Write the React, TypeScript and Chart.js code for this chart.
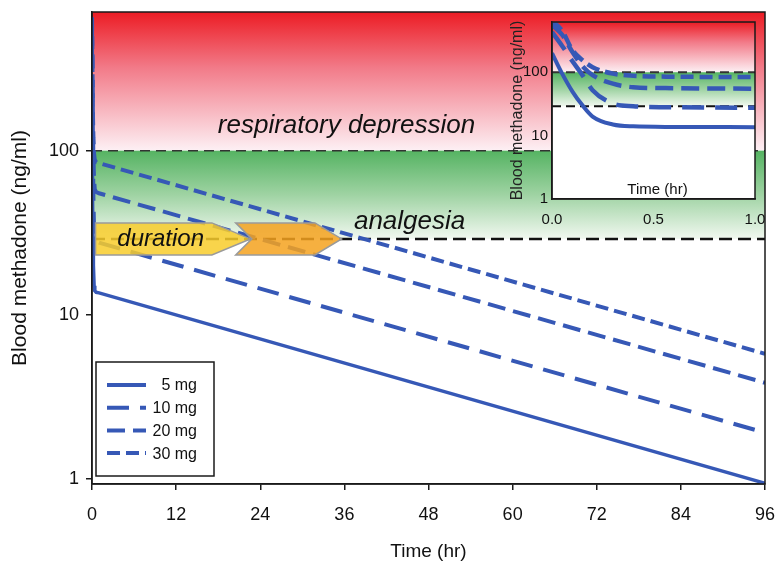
import React, { useEffect, useRef } from 'react';
import { Chart, registerables } from 'chart.js';

Chart.register(...registerables);

// ---------- data ----------
const timeHr = [0, 0.05, 0.1, 0.15, 0.2, 0.3, 0.4, 0.6, 1, 96];
const dose5mg = [200, 95, 50, 30, 20, 15, 14, 13.7, 13.6, 0.94];
const dose10mg = [430, 260, 150, 90, 52, 32, 29, 28, 27.5, 1.91];
const dose20mg = [560, 390, 210, 125, 90, 66, 58, 56, 55, 3.85];
const dose30mg = [650, 450, 225, 155, 120, 95, 88, 85, 84, 5.78];
const seriesLabels = ['5 mg', '10 mg', '20 mg', '30 mg'];
const xTicks = [0, 12, 24, 36, 48, 60, 72, 84, 96];
const yTicks = [1, 10, 100];
const insetXTicks = [0, 0.5, 1];
const respiratoryThreshold = 100;
const analgesiaThreshold = 29;
// duration arrows (hours): yellow [start, shoulder, tip]; orange [back, notch, shoulder, tip]
const yellowArrow = [0.5, 17.1, 22.6];
const orangeArrow = [20.5, 22.8, 31.8, 35.6];

// ---------- styles ----------
const FONT = "'Liberation Sans', Arial, sans-serif";
const BLUE = '#3658b6';
const dashes = [[], [22, 11], [18, 8], [13, 6]];
const seriesValues = [dose5mg, dose10mg, dose20mg, dose30mg];

function points(vals: number[], maxT: number) {
  const out: { x: number; y: number }[] = [];
  timeHr.forEach((t, i) => {
    if (t <= maxT) out.push({ x: t, y: vals[i] });
  });
  return out;
}

function makeDatasets(maxT: number, inset: boolean) {
  return seriesValues.map((vals, i) => ({
    label: seriesLabels[i],
    data: points(vals, maxT),
    borderColor: BLUE,
    borderWidth: inset ? (i === 0 ? 4 : 4.5) : i === 0 ? 3.5 : 4,
    borderDash: dashes[i],
    pointRadius: 0,
    fill: false,
    cubicInterpolationMode: inset ? 'monotone' : 'default',
  }));
}

const zonePlugin = {
  id: 'zones',
  beforeDraw(chart: any) {
    const { ctx, chartArea: a, scales } = chart;
    const y = scales.y;
    const yHi = y.getPixelForValue(respiratoryThreshold);
    const yLo = y.getPixelForValue(analgesiaThreshold);
    ctx.save();
    ctx.fillStyle = '#ffffff';
    ctx.fillRect(a.left, a.top, a.right - a.left, a.bottom - a.top);
    let g = ctx.createLinearGradient(0, a.top, 0, yHi);
    g.addColorStop(0, '#ec1c24');
    g.addColorStop(0.4, '#f27a88');
    g.addColorStop(1, '#fdf0f4');
    ctx.fillStyle = g;
    ctx.fillRect(a.left, a.top, a.right - a.left, yHi - a.top);
    g = ctx.createLinearGradient(0, yHi, 0, yLo);
    g.addColorStop(0, '#55b362');
    g.addColorStop(0.5, '#9fd3a3');
    g.addColorStop(1, '#f1f8f0');
    ctx.fillStyle = g;
    ctx.fillRect(a.left, yHi, a.right - a.left, yLo - yHi);
    ctx.restore();
  },
  beforeDatasetsDraw(chart: any, _args: any, opts: any) {
    const { ctx, chartArea: a, scales } = chart;
    const y = scales.y;
    ctx.save();
    ctx.beginPath();
    ctx.rect(a.left, a.top, a.right - a.left, a.bottom - a.top);
    ctx.clip();
    const lines = [
      { v: respiratoryThreshold, w: opts.hiWidth, d: opts.hiDash, c: '#333' },
      { v: analgesiaThreshold, w: opts.loWidth, d: opts.loDash, c: '#111' },
    ];
    lines.forEach((l) => {
      const py = y.getPixelForValue(l.v);
      ctx.strokeStyle = l.c;
      ctx.lineWidth = l.w;
      ctx.setLineDash(l.d);
      ctx.beginPath();
      ctx.moveTo(a.left, py);
      ctx.lineTo(a.right, py);
      ctx.stroke();
    });
    ctx.restore();
  },
  afterDraw(chart: any) {
    const { ctx, chartArea: a } = chart;
    ctx.save();
    ctx.strokeStyle = '#1a1a1a';
    ctx.lineWidth = 1.5;
    ctx.setLineDash([]);
    ctx.strokeRect(a.left, a.top, a.right - a.left, a.bottom - a.top);
    ctx.restore();
  },
};

const annotationPlugin = {
  id: 'annot',
  afterDatasetsDraw(chart: any) {
    const { ctx, scales } = chart;
    const x = scales.x;
    const y = scales.y;
    const mid = y.getPixelForValue(analgesiaThreshold);
    const h = 16;
    ctx.save();
    // yellow arrow
    const [ys, ysh, yt] = yellowArrow.map((t) => x.getPixelForValue(t));
    ctx.globalAlpha = 0.85;
    ctx.beginPath();
    ctx.moveTo(ys, mid - h);
    ctx.lineTo(ysh, mid - h);
    ctx.lineTo(yt, mid);
    ctx.lineTo(ysh, mid + h);
    ctx.lineTo(ys, mid + h);
    ctx.closePath();
    ctx.fillStyle = '#f8cd2c';
    ctx.fill();
    ctx.globalAlpha = 1;
    ctx.strokeStyle = '#9a9a9a';
    ctx.lineWidth = 1.5;
    ctx.stroke();
    // orange arrow
    const [ob, on, osh, ot] = orangeArrow.map((t) => x.getPixelForValue(t));
    ctx.globalAlpha = 0.85;
    ctx.beginPath();
    ctx.moveTo(ob, mid - h);
    ctx.lineTo(osh, mid - h);
    ctx.lineTo(ot, mid);
    ctx.lineTo(osh, mid + h);
    ctx.lineTo(ob, mid + h);
    ctx.lineTo(on, mid);
    ctx.closePath();
    ctx.fillStyle = '#f5a21f';
    ctx.fill();
    ctx.globalAlpha = 1;
    ctx.stroke();

    // texts
    ctx.fillStyle = '#111';
    ctx.textAlign = 'center';
    ctx.textBaseline = 'alphabetic';
    ctx.font = `italic 26px ${FONT}`;
    ctx.fillText('respiratory depression', x.getPixelForValue(36.3), y.getPixelForValue(129));
    ctx.fillText('analgesia', x.getPixelForValue(45.3), y.getPixelForValue(33.4));
    ctx.font = `italic 24px ${FONT}`;
    ctx.fillText('duration', x.getPixelForValue(9.8), y.getPixelForValue(26.4));

    ctx.restore();
  },
  afterDraw(chart: any) {
    const { ctx, chartArea: a } = chart;
    // legend box
    const bx = a.left + 4;
    const by = a.bottom - 122;
    const bw = 118;
    const bh = 114;
    ctx.save();
    ctx.fillStyle = '#ffffff';
    ctx.fillRect(bx, by, bw, bh);
    ctx.strokeStyle = '#1a1a1a';
    ctx.lineWidth = 1.5;
    ctx.strokeRect(bx, by, bw, bh);
    ctx.font = `16px ${FONT}`;
    ctx.textAlign = 'right';
    ctx.textBaseline = 'middle';
    seriesLabels.forEach((lab, i) => {
      const ry = by + 23 + i * 22.7;
      ctx.strokeStyle = BLUE;
      ctx.lineWidth = 4;
      ctx.setLineDash(dashes[i]);
      ctx.beginPath();
      ctx.moveTo(bx + 11, ry);
      ctx.lineTo(bx + 50, ry);
      ctx.stroke();
      ctx.setLineDash([]);
      ctx.fillStyle = '#111';
      ctx.fillText(lab, bx + 101, ry + 1);
    });
    ctx.restore();
  },
};

const insetLabelPlugin = {
  id: 'insetLabel',
  afterDraw(chart: any) {
    const { ctx, chartArea: a } = chart;
    ctx.save();
    ctx.fillStyle = '#111';
    ctx.font = `15px ${FONT}`;
    ctx.textAlign = 'center';
    ctx.textBaseline = 'middle';
    ctx.fillText('Time (hr)', (a.left + a.right) / 2 + 4, a.bottom - 9);
    ctx.restore();
  },
};

const fitX = (h: number) => (s: any) => {
  s.height = h;
  s.paddingLeft = 0;
  s.paddingRight = 0;
  s.paddingTop = 0;
  s.paddingBottom = 0;
};
const fitY = (w: number) => (s: any) => {
  s.width = w;
  s.paddingLeft = 0;
  s.paddingRight = 0;
  s.paddingTop = 0;
  s.paddingBottom = 0;
};

export default function App() {
  const mainRef = useRef<HTMLCanvasElement | null>(null);
  const insetRef = useRef<HTMLCanvasElement | null>(null);

  useEffect(() => {
    if (!mainRef.current || !insetRef.current) return;
    const main = new Chart(mainRef.current, {
      type: 'line',
      data: { datasets: makeDatasets(1000, false) as any },
      options: {
        responsive: false,
        animation: false,
        layout: { padding: { left: 0, right: 11, top: 12, bottom: 0 } },
        plugins: {
          legend: { display: false },
          tooltip: { enabled: false },
          zones: { hiWidth: 1.5, hiDash: [10, 6], loWidth: 2.5, loDash: [13, 6] },
        } as any,
        scales: {
          x: {
            type: 'linear',
            min: 0,
            max: 96,
            afterBuildTicks: (s: any) => {
              s.ticks = xTicks.map((v) => ({ value: v }));
            },
            afterFit: fitX(83),
            grid: { drawOnChartArea: false, drawTicks: true, tickLength: 6, color: '#1a1a1a', lineWidth: 1.5 },
            border: { display: true, color: '#1a1a1a', width: 1.5 },
            ticks: { color: '#111', font: { family: FONT, size: 18 }, padding: 14, maxRotation: 0, callback: (v: any) => String(v) },
            title: { display: true, text: 'Time (hr)', color: '#111', font: { family: FONT, size: 19 }, padding: { top: 4, bottom: 4 } },
          },
          y: {
            type: 'logarithmic',
            min: 0.93,
            max: 700,
            afterBuildTicks: (s: any) => {
              s.ticks = yTicks.map((v) => ({ value: v }));
            },
            afterFit: fitY(92),
            grid: { drawOnChartArea: false, drawTicks: true, tickLength: 6, color: '#1a1a1a', lineWidth: 1.5 },
            border: { display: true, color: '#1a1a1a', width: 1.5 },
            ticks: { color: '#111', font: { family: FONT, size: 18 }, padding: 7, callback: (v: any) => String(v) },
            title: { display: true, text: 'Blood methadone (ng/ml)', color: '#111', font: { family: FONT, size: 21 }, padding: { top: 8, bottom: 4 } },
          },
        },
      },
      plugins: [zonePlugin, annotationPlugin],
    });

    const inset = new Chart(insetRef.current, {
      type: 'line',
      data: { datasets: makeDatasets(1, true) as any },
      options: {
        responsive: false,
        animation: false,
        layout: { padding: { left: 0, right: 15, top: 12, bottom: 0 } },
        plugins: {
          legend: { display: false },
          tooltip: { enabled: false },
          zones: { hiWidth: 2, hiDash: [9, 5], loWidth: 2, loDash: [9, 5] },
        } as any,
        scales: {
          x: {
            type: 'linear',
            min: 0,
            max: 1,
            afterBuildTicks: (s: any) => {
              s.ticks = insetXTicks.map((v) => ({ value: v }));
            },
            afterFit: fitX(36),
            grid: { drawOnChartArea: false, drawTicks: false },
            border: { display: true, color: '#1a1a1a', width: 1.5 },
            ticks: { color: '#111', font: { family: FONT, size: 15 }, padding: 12, maxRotation: 0, callback: (v: any) => Number(v).toFixed(1) },
          },
          y: {
            type: 'logarithmic',
            min: 1,
            max: 620,
            afterBuildTicks: (s: any) => {
              s.ticks = yTicks.map((v) => ({ value: v }));
            },
            afterFit: fitY(52),
            grid: { drawOnChartArea: false, drawTicks: false },
            border: { display: true, color: '#1a1a1a', width: 1.5 },
            ticks: { color: '#111', font: { family: FONT, size: 15 }, padding: 4, callback: (v: any) => String(v) },
            title: { display: true, text: 'Blood methadone (ng/ml)', color: '#222', font: { family: FONT, size: 16 }, padding: { top: 8, bottom: 0 } },
          },
        },
      },
      plugins: [zonePlugin, insetLabelPlugin],
    });

    return () => {
      main.destroy();
      inset.destroy();
    };
  }, []);

  return (
    <div style={{ position: 'absolute', left: 0, top: 0, width: 776, height: 567, background: '#fff' }}>
      <canvas ref={mainRef} width={776} height={567} style={{ position: 'absolute', left: 0, top: 0 }} />
      <canvas ref={insetRef} width={270} height={225} style={{ position: 'absolute', left: 500, top: 10 }} />
    </div>
  );
}
